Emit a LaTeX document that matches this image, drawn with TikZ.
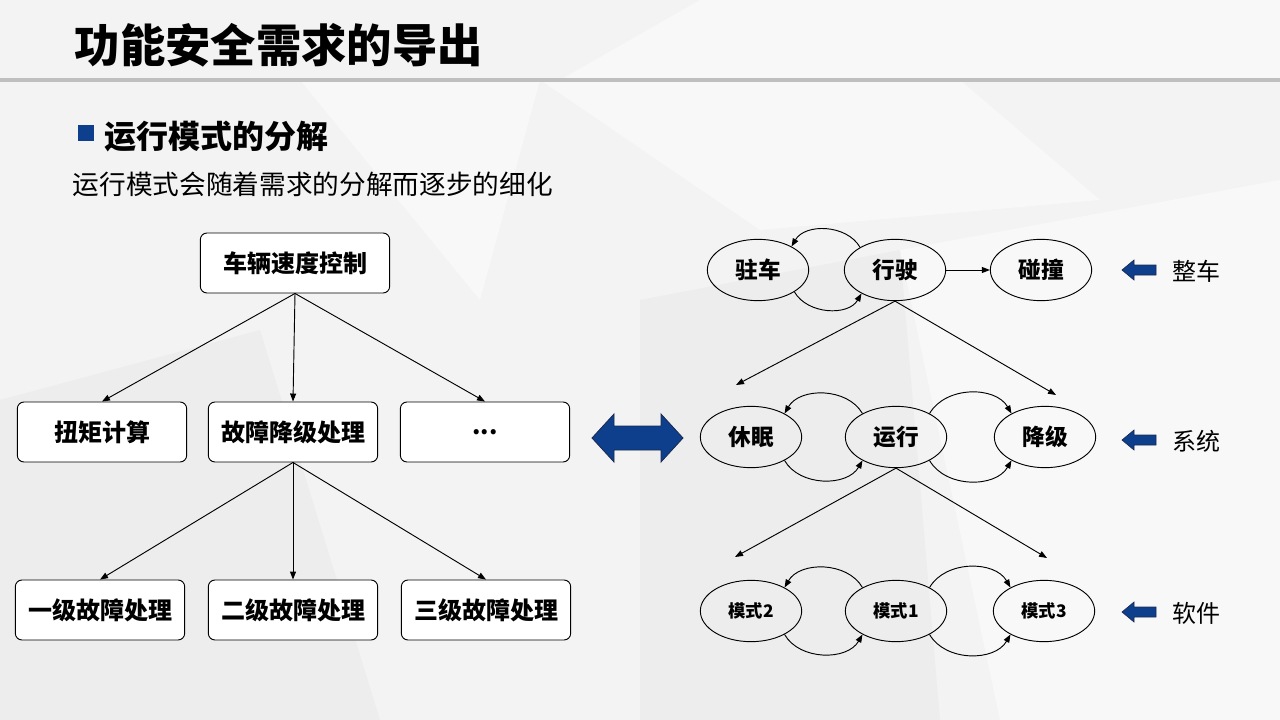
\documentclass[tikz,border=0pt]{standalone}
\usepackage{fontspec}
\setmainfont{Noto Sans CJK SC}
\usetikzlibrary{shapes.geometric,arrows.meta}
\definecolor{deepblue}{HTML}{0E3F8C}
\definecolor{edgeblue}{HTML}{1A2A50}
\definecolor{bgbase}{HTML}{F3F3F3}
\definecolor{bglight}{HTML}{F8F8F8}
\definecolor{bgdark}{HTML}{EDEDED}
\begin{document}
\begin{tikzpicture}[x=0.75pt,y=0.75pt,
    box/.style={draw,rounded corners=5pt,fill=white,line width=0.7pt,minimum width=127pt,minimum height=45pt,font=\bfseries\fontsize{18}{18}\selectfont},
    oval/.style={draw,ellipse,line width=0.7pt,minimum width=76pt,minimum height=46pt,inner sep=0pt,font=\bfseries\fontsize{17}{17}\selectfont},
    smalloval/.style={oval,font=\bfseries\fontsize{13}{13}\selectfont},
    arr/.style={-{Triangle[length=6pt,width=4.5pt]},line width=0.7pt},
    lbl/.style={anchor=west,font=\fontsize{18}{18}\selectfont}]
    % background
    \useasboundingbox (0,0) rectangle (1280,-720);
    \fill[bgbase] (0,0) rectangle (1280,-720);
    \fill[bglight] (540,-80) -- (960,-80) -- (1100,-200) -- (760,-230) -- cycle;
    \fill[bglight] (700,0) -- (1280,0) -- (1280,-80) -- (560,-80) -- cycle;
    \fill[bgdark] (640,-300) -- (900,-250) -- (940,-720) -- (640,-720) -- cycle;
    \fill[bglight] (900,-250) -- (1280,-180) -- (1280,-720) -- (1000,-720) -- cycle;
    \fill[bgdark] (0,-400) -- (260,-330) -- (380,-720) -- (0,-720) -- cycle;
    \fill[bglight] (300,-80) -- (540,-80) -- (480,-300) -- cycle;
    \draw[line width=3pt,black!25] (0,-80) -- (1280,-80);
    % titles
    \node[anchor=west,font=\bfseries\fontsize{34}{34}\selectfont] (title) at (70,-45) {功能安全需求的导出};
    \fill[deepblue] (78,-125) rectangle (94,-141);
    \node[anchor=west,font=\bfseries\fontsize{24}{24}\selectfont] (sub) at (100,-137) {运行模式的分解};
    \node[anchor=west,font=\fontsize{20}{20}\selectfont] (desc) at (68,-184) {运行模式会随着需求的分解而逐步的细化};
    % left tree
    \node[box,minimum width=142pt] (kz) at (295,-263) {车辆速度控制};
    \node[box] (nj) at (102,-432) {扭矩计算};
    \node[box] (gz) at (293,-432) {故障降级处理};
    \node[box] (qt) at (485,-432) {...};
    \node[box] (g1) at (100,-610) {一级故障处理};
    \node[box] (g2) at (293,-610) {二级故障处理};
    \node[box] (g3) at (486,-610) {三级故障处理};
    \draw[arr] (kz.south) -- (nj.north);
    \draw[arr] (kz.south) -- (gz.north);
    \draw[arr] (kz.south) -- (qt.north);
    \draw[arr] (gz.south) -- (g1.north);
    \draw[arr] (gz.south) -- (g2.north);
    \draw[arr] (gz.south) -- (g3.north);
    % double arrow
    \draw[fill=deepblue,draw=edgeblue,line width=0.6pt] (592,-438) -- (614,-414) -- (614,-426) -- (661,-426) -- (661,-414) -- (683,-438)
        -- (661,-462) -- (661,-450) -- (614,-450) -- (614,-462) -- cycle;
    % right states
    \node[oval] (zc) at (758,-270) {驻车};
    \node[oval] (xs) at (895,-270) {行驶};
    \node[oval] (pz) at (1041,-270) {碰撞};
    \node[oval] (xm) at (751,-437) {休眠};
    \node[oval] (yx) at (896,-437) {运行};
    \node[oval] (jj) at (1045,-437) {降级};
    \node[smalloval] (ms2) at (751,-611) {模式2};
    \node[smalloval] (ms1) at (896,-611) {模式1};
    \node[smalloval] (ms3) at (1044,-611) {模式3};
    \coordinate (c1) at (736,-385);
    \coordinate (c2) at (1056,-395);
    \coordinate (c3) at (735,-557);
    \coordinate (c4) at (1047,-558);
    \draw[arr] (xs.147) to[out=120,in=60] (zc.35);
    \draw[arr] (zc.-31) to[out=-60,in=-120] (xs.215);
    \draw[arr] (xs.east) -- (pz.west);
    \draw[arr] (xs.south) -- (c1);
    \draw[arr] (xs.south) -- (c2);
    \draw[arr] (yx.145) to[out=120,in=60] (xm.35);
    \draw[arr] (xm.-35) to[out=-60,in=-120] (yx.215);
    \draw[arr] (yx.35) to[out=60,in=120] (jj.145);
    \draw[arr] (yx.-35) to[out=-60,in=-120] (jj.215);
    \draw[arr] (yx.south) -- (c3);
    \draw[arr] (yx.south) -- (c4);
    \draw[arr] (ms1.145) to[out=120,in=60] (ms2.35);
    \draw[arr] (ms2.-35) to[out=-60,in=-120] (ms1.215);
    \draw[arr] (ms1.35) to[out=60,in=120] (ms3.145);
    \draw[arr] (ms1.-35) to[out=-60,in=-120] (ms3.215);
    % level labels
    \foreach \y in {270,440,612}
        \draw[fill=deepblue,draw=edgeblue,line width=0.5pt] (1122,-\y) -- (1134,-\y+10) -- (1134,-\y+5) -- (1156,-\y+5)
            -- (1156,-\y-5) -- (1134,-\y-5) -- (1134,-\y-10) -- cycle;
    \node[lbl] (zcl) at (1168,-271) {整车};
    \node[lbl] (xtl) at (1168,-441) {系统};
    \node[lbl] (rjl) at (1168,-613) {软件};
\end{tikzpicture}
\end{document}
